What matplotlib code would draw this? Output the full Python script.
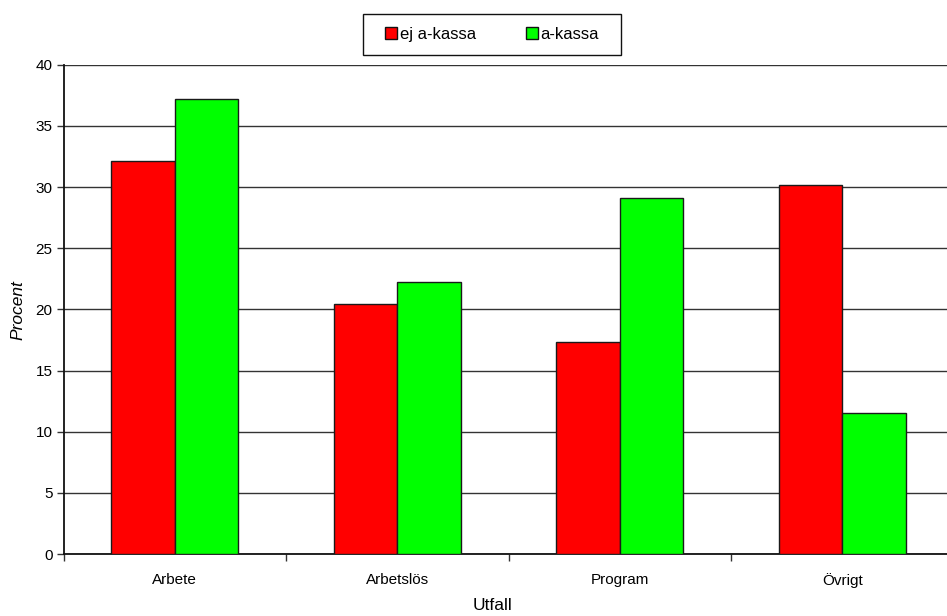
import matplotlib
matplotlib.use("Agg")
import matplotlib.pyplot as plt
from matplotlib.patches import Patch, Rectangle
import numpy as np

categories = ["Arbete", "Arbetslös", "Program", "Övrigt"]
ej_akassa = [32.1, 20.4, 17.3, 30.2]
akassa = [37.2, 22.2, 29.1, 11.5]
series_names = ["ej a-kassa", "a-kassa"]
yticks = [0, 5, 10, 15, 20, 25, 30, 35, 40]

plt.rcParams["font.family"] = ["Liberation Sans", "DejaVu Sans"]

W, H = 947, 616
fig = plt.figure(figsize=(W / 100, H / 100), dpi=100)
left, right, top, bottom = 63.5, 953.5, 64.7, 554.0
ax = fig.add_axes([left / W, 1 - bottom / H, (right - left) / W, (bottom - top) / H])

centers = np.arange(len(categories)) + 0.5
bw = 0.2855
ax.bar(centers - bw / 2, ej_akassa, width=bw, color="#ff0000",
       edgecolor="#1a1a1a", linewidth=1.0, zorder=3)
ax.bar(centers + bw / 2, akassa, width=bw, color="#00ff00",
       edgecolor="#1a1a1a", linewidth=1.0, zorder=3)

ax.set_xlim(0, len(categories))
ax.set_ylim(0, 40)
ax.set_yticks(yticks)
ax.set_yticklabels([str(v) for v in yticks], fontsize=11)
ax.yaxis.grid(True, color="#333333", linewidth=1.0, zorder=0)
ax.set_axisbelow(True)

ax.set_xticks(np.arange(len(categories) + 1))
ax.set_xticklabels([])
ax.set_xticks(centers, minor=True)
ax.set_xticklabels(categories, minor=True, fontsize=11)
ax.tick_params(axis="x", which="minor", length=0, pad=14)
ax.tick_params(axis="x", which="major", length=5, width=1, color="#333333", direction="out")
ax.tick_params(axis="y", length=5, width=1, color="#333333", direction="out", pad=3)

for s in ["top", "right"]:
    ax.spines[s].set_visible(False)
for s in ["left", "bottom"]:
    ax.spines[s].set_color("#111111")
    ax.spines[s].set_linewidth(1.3)

fig.text(492 / W, 1 - 605 / H, "Utfall", ha="center", va="center", fontsize=12.5)
fig.text(18 / W, 1 - 310 / H, "Procent", ha="center", va="center", fontsize=12.5,
         style="italic", rotation=90)

# legend box drawn as a plain rectangle, entries centred inside it
box_l, box_r, box_t, box_b = 363, 621, 14, 55
fig.patches.append(Rectangle((box_l / W, 1 - box_b / H), (box_r - box_l) / W,
                             (box_b - box_t) / H, transform=fig.transFigure,
                             facecolor="white", edgecolor="#111111", linewidth=1.0))
handles = [Patch(facecolor="#ff0000", edgecolor="#111111", linewidth=1.0),
           Patch(facecolor="#00ff00", edgecolor="#111111", linewidth=1.0)]
leg = fig.legend(handles, series_names, loc="center",
                 bbox_to_anchor=((box_l + box_r) / 2 / W, 1 - (box_t + box_b) / 2 / H),
                 ncol=2, fontsize=12, frameon=False,
                 handlelength=0.72, handleheight=0.72, handletextpad=0.15,
                 columnspacing=3.0, borderpad=0, borderaxespad=0)

fig.savefig("out.png", dpi=100)
